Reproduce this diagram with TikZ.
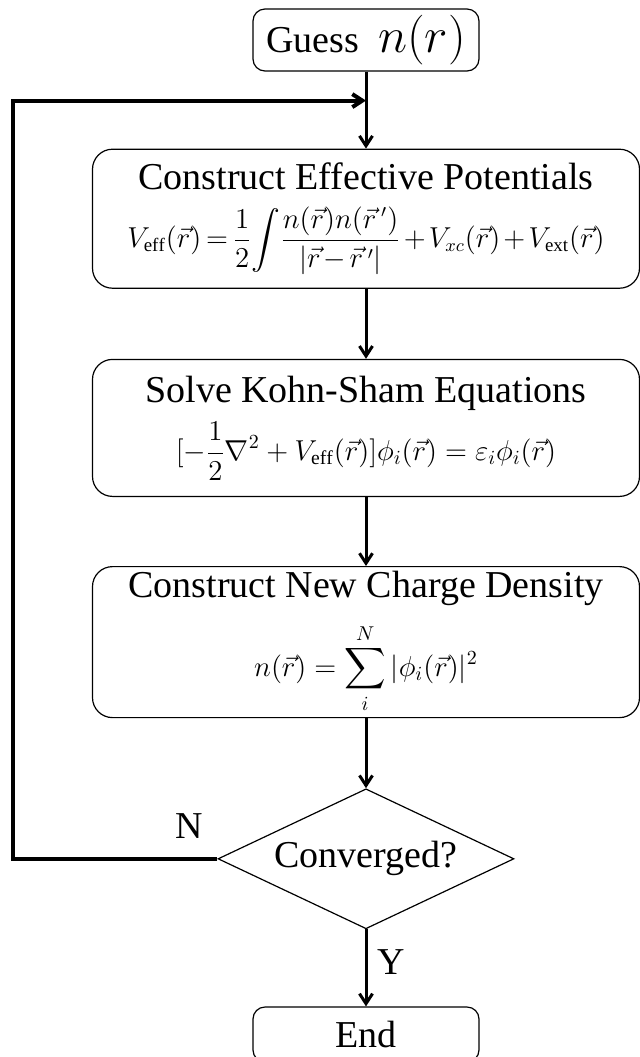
\documentclass[tikz,border=0pt]{standalone}
\usepackage{amsmath}
\usepackage{fontspec}
\setmainfont{Liberation Serif}
\usetikzlibrary{arrows.meta,positioning,shapes.geometric}

\begin{document}
\begin{tikzpicture}[x=0.5pt, y=-0.5pt, >={Straight Barb[length=5pt,width=6.5pt]},
  stepbox/.style={draw, rounded corners=10pt, line width=0.6pt, align=center,
    inner sep=0pt, minimum width=273.5pt, font=\fontsize{19}{22}\selectfont},
  endbox/.style={draw, rounded corners=6pt, line width=0.6pt, inner sep=0pt,
    minimum width=113pt, font=\fontsize{19}{22}\selectfont},
  test/.style={draw, diamond, aspect=2.11, inner sep=0pt, line width=0.6pt,
    minimum width=148pt, minimum height=70pt, font=\fontsize{19}{22}\selectfont},
  flow/.style={->, line width=1.5pt},
  lbl/.style={inner sep=0pt, font=\fontsize{19}{22}\selectfont}]
\useasboundingbox (0,0) rectangle (640,1057);
\node[endbox, minimum height=31pt] (guess) at (366,40)
  {Guess\ \ {\fontsize{23}{26}\selectfont$n(r)$}};
\node[stepbox, minimum height=69.5pt, below=38.5pt of guess] (pot)
  {Construct Effective Potentials\\[7pt]
   {\fontsize{13.5}{15}\selectfont\medmuskip=2mu\thickmuskip=3mu$\displaystyle V_{\mathrm{eff}}(\vec{r})=\frac{1}{2}\!\int\!\frac{n(\vec{r})n(\vec{r}\,')}{|\vec{r}-\vec{r}\,'|}+V_{xc}(\vec{r})+V_{\mathrm{ext}}(\vec{r})$}};
\node[stepbox, minimum height=68.5pt, below=35pt of pot] (ks)
  {Solve Kohn-Sham Equations\\[5pt]
   {\fontsize{14}{16}\selectfont$\displaystyle [-\frac{1}{2}\nabla^2+V_{\mathrm{eff}}(\vec{r})]\phi_i(\vec{r})=\varepsilon_i\phi_i(\vec{r})$}};
\node[stepbox, minimum height=75.5pt, below=34.5pt of ks] (dens)
  {Construct New Charge Density\\[8pt]
   {\fontsize{14}{16}\selectfont$\displaystyle n(\vec{r})=\sum_i^N|\phi_i(\vec{r})|^2$}};
\node[test, below=35pt of dens] (conv) {Converged?};
\node[endbox, minimum height=27.5pt, below=38.5pt of conv] (end) {End};
\coordinate[below=14.5pt of guess.south] (join);
\draw[flow] (guess) -- (pot);
\draw[flow] (pot) -- (ks);
\draw[flow] (ks) -- (dens);
\draw[flow] (dens) -- (conv);
\draw[flow] (conv) -- node[lbl, right=5pt, pos=0.42] {Y} (end);
\draw[flow, line width=2pt] (conv.west) -- ++(-204,0) |- (join);
\node[lbl, above left=10pt and 7pt of conv.west] (no) {N};
\end{tikzpicture}
\end{document}
